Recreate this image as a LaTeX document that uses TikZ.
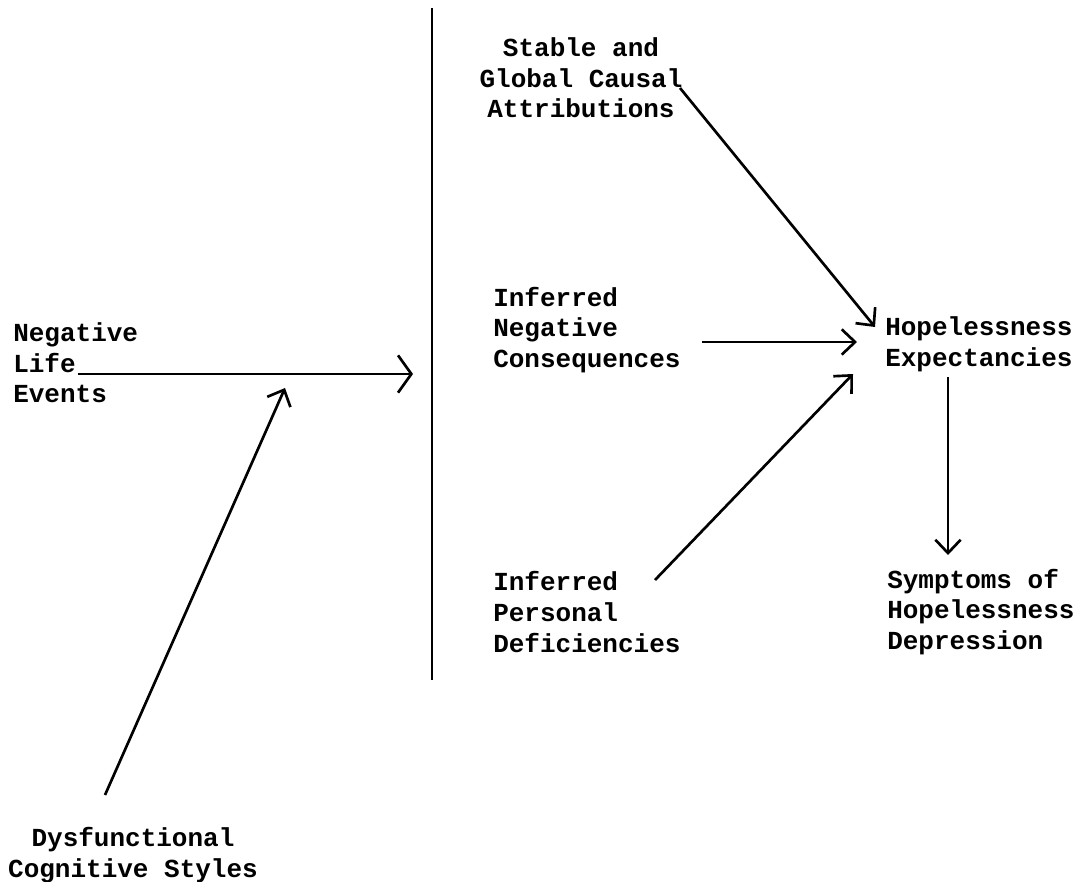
\documentclass[tikz,border=0pt]{standalone}
\usepackage{fontspec}
\setmainfont{Liberation Mono}
\usetikzlibrary{arrows.meta}

\tikzset{
  lbl/.style={font=\bfseries\fontsize{19.5}{23}\selectfont, inner sep=0pt, align=left},
  arr/.style={line width=2pt, -{Straight Barb[length=10pt, width=19pt, line width=2pt]}},
}

\begin{document}
\begin{tikzpicture}[x=0.75pt, y=-0.75pt]
    \useasboundingbox (0,0) rectangle (1079,882);
    % barrier line
    \coordinate (bartop) at (432,8);
    \coordinate (barbot) at (432,680);
    \draw[line width=2pt] (bartop) -- (barbot);
    % text blocks
    \node[lbl, anchor=west] (nle) at (13,363) {Negative\\Life\\Events};
    \node[lbl, align=center] (dcs) at (133,855) {Dysfunctional\\Cognitive Styles};
    \node[lbl, align=center] (sgca) at (581,78) {Stable and\\Global Causal\\Attributions};
    \node[lbl, anchor=west] (inc) at (493,330) {Inferred\\Negative\\Consequences};
    \node[lbl, anchor=west] (ipd) at (493,612) {Inferred\\Personal\\Deficiencies};
    \node[lbl, anchor=west] (hope) at (885,344) {Hopelessness\\Expectancies};
    \node[lbl, anchor=west] (shd) at (887,612) {Symptoms of\\Hopelessness\\Depression};
    % arrow ends
    \coordinate (lifeend) at (78,374);
    \coordinate (barin) at (413,374);
    \coordinate (dcsup) at (105,795);
    \coordinate (mid) at (285,388);
    \coordinate (sgcaout) at (680,88);
    \coordinate (sgcaend) at (875,327);
    \coordinate (incout) at (702,342);
    \coordinate (incend) at (857,342);
    \coordinate (ipdout) at (655,580);
    \coordinate (ipdend) at (853,374);
    \coordinate (hopeout) at (948,377);
    \coordinate (shdin) at (948,555);
    % connectors
    \draw[arr, -{Straight Barb[length=10pt, width=28pt, line width=2pt]}] (lifeend) -- (barin);
    \draw[arr] (dcsup) -- (mid);
    \draw[arr] (sgcaout) -- (sgcaend);
    \draw[arr] (incout) -- (incend);
    \draw[arr] (ipdout) -- (ipdend);
    \draw[arr] (hopeout) -- (shdin);
\end{tikzpicture}
\end{document}
